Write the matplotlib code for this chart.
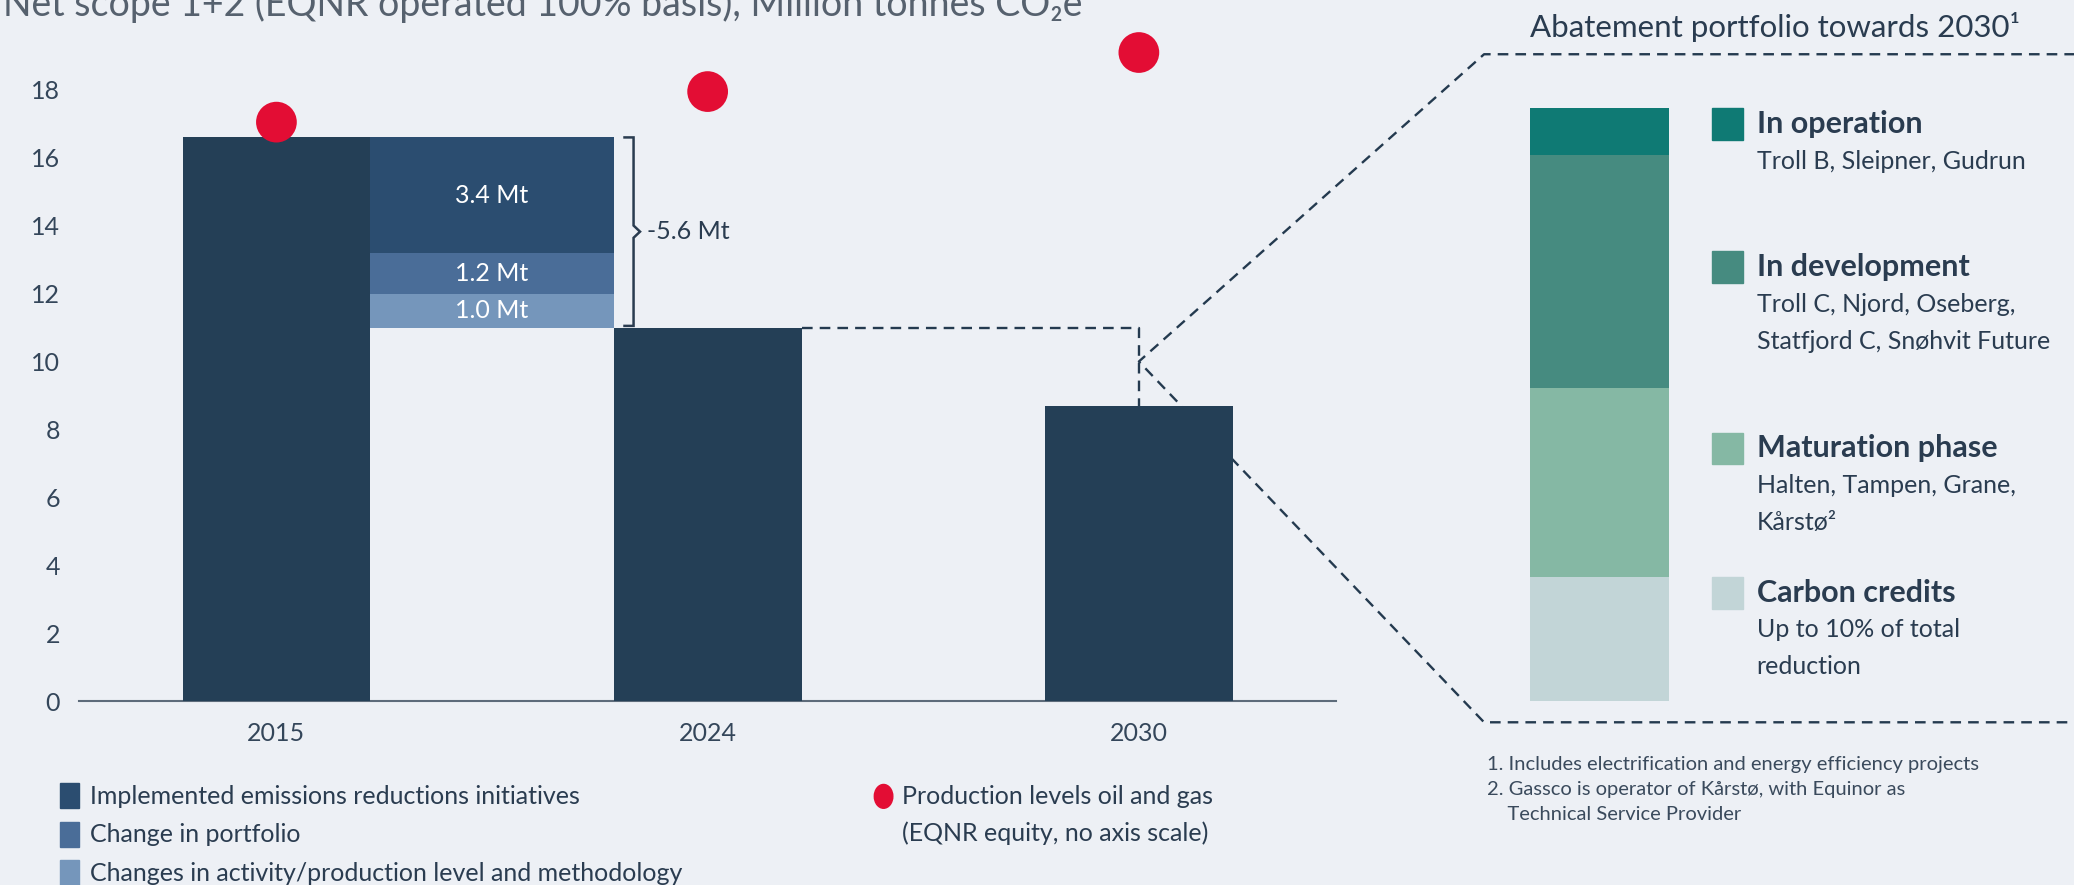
import numpy as np
import matplotlib.pyplot as plt
from matplotlib.patches import Rectangle, Ellipse

plt.rcParams['font.family'] = ['Lato', 'DejaVu Sans']

# ---- data ----
years = ["2015", "2024", "2030"]
emissions = [16.6, 11.0, 8.7]          # Mt CO2e
production = [17.05, 17.95, 19.1]      # no axis scale, plotted on same axis

bridge_labels = ["Implemented emissions reductions initiatives",
                 "Change in portfolio",
                 "Changes in activity/production level and methodology"]
bridge_values = [3.4, 1.2, 1.0]
bridge_text = ["3.4 Mt", "1.2 Mt", "1.0 Mt"]
drop_text = "-5.6 Mt"

portfolio_cats = ["In operation", "In development", "Maturation phase", "Carbon credits"]
portfolio_share = [7.8, 39.3, 31.9, 21.0]   # top to bottom, % of bar
portfolio_notes = [["Troll B, Sleipner, Gudrun"],
                   ["Troll C, Njord, Oseberg,", "Statfjord C, Snøhvit Future"],
                   ["Halten, Tampen, Grane,", "Kårstø²"],
                   ["Up to 10% of total", "reduction"]]
footnotes = ["1. Includes electrification and energy efficiency projects",
             "2. Gassco is operator of Kårstø, with Equinor as",
             "    Technical Service Provider"]

# ---- style ----
BG = "#edf0f5"
MAIN = "#243f56"
bridge_colors = ["#2b4d70", "#4a6d98", "#7596bb"]
portfolio_colors = ["#0f7a74", "#468b80", "#85b8a4", "#c2d5d7"]
RED = "#e30d34"
TXT = "#2a3c50"
DASH = "#243a4f"

W, H = 1568, 669


def fx(x):
    return x / W


def fy(y):
    return 1 - y / H


fig = plt.figure(figsize=(20.74, 8.85), dpi=100, facecolor=BG)

# ---- main chart ----
ax = fig.add_axes([fx(60), fy(530), (1010 - 60) / W, (530 - 16.6) / H])
ax.set_facecolor("none")
x = np.arange(len(years))
bw = 0.4356
ax.set_xlim(-0.457, 2.457)
ax.set_ylim(0, 20)

ax.bar(x, emissions, width=bw, color=MAIN, zorder=3)

bottoms = emissions[0] - np.cumsum(bridge_values)
bx = (x[0] + x[1]) / 2
ax.bar(bx, bridge_values, bottom=bottoms, width=1 - bw, color=bridge_colors, zorder=3)
for b, v, t in zip(bottoms, bridge_values, bridge_text):
    ax.text(bx, b + v / 2, t, color="white", ha="center", va="center", fontsize=18, zorder=5)

ax.scatter(x, production, s=860, color=RED, edgecolor="none", zorder=4)

# bracket for total drop
top, bot = emissions[0], bottoms[-1] + 0.05
mid = (top + bot) / 2
xb = x[1] - bw / 2 + 0.046
ax.plot([xb - 0.021, xb, xb, xb + 0.015, xb, xb, xb - 0.021],
        [top, top, mid + 0.18, mid, mid - 0.18, bot, bot],
        color=TXT, lw=1.8, zorder=4, solid_joinstyle="miter")
ax.text(xb + 0.031, mid, drop_text, fontsize=18, color=TXT, va="center", ha="left")

ax.set_yticks(range(0, 19, 2))
ax.set_xticks(x)
ax.set_xticklabels(years)
ax.tick_params(axis="y", length=0, labelsize=18, labelcolor="#34465a", pad=14)
ax.tick_params(axis="x", length=0, labelsize=18, labelcolor="#34465a", pad=15)
for s in ["top", "right", "left"]:
    ax.spines[s].set_visible(False)
ax.spines["bottom"].set_color("#5d6b7a")
ax.spines["bottom"].set_linewidth(1.5)

# dashed connector to abatement panel
to_data = lambda px, py: ax.transData.inverted().transform(
    fig.transFigure.transform((fx(px), fy(py))))
c_top = to_data(1122, 41)
c_bot = to_data(1122, 546)
r_top = to_data(1575, 41)
r_bot = to_data(1575, 546)
vy = 10.0
dkw = dict(color=DASH, lw=1.7, dashes=(4.5, 3), clip_on=False, zorder=2)
ax.plot([x[1] + bw / 2, x[2], x[2]], [emissions[1], emissions[1], emissions[2]], **dkw)
ax.plot([r_top[0], c_top[0], x[2], c_bot[0], r_bot[0]],
        [r_top[1], c_top[1], vy, c_bot[1], r_bot[1]], **dkw)

fig.text(fx(2), fy(12), "Net scope 1+2 (EQNR operated 100% basis), Million tonnes CO₂e",
         fontsize=27, color="#56616e", va="baseline", ha="left")

# ---- left legend ----
for i, (lab, col) in enumerate(zip(bridge_labels, bridge_colors)):
    yc = 602 + i * 29
    fig.patches.append(Rectangle((fx(45), fy(yc + 9)), 15 / W, 19 / H,
                                 transform=fig.transFigure, color=col))
    fig.text(fx(68), fy(yc), lab, fontsize=18, color=TXT, va="center", ha="left")

fig.patches.append(Ellipse((fx(668), fy(602)), 14 / W, 18 / H,
                           transform=fig.transFigure, color=RED))
fig.text(fx(682), fy(602), "Production levels oil and gas", fontsize=18, color=TXT, va="center")
fig.text(fx(682), fy(630), "(EQNR equity, no axis scale)", fontsize=18, color=TXT, va="center")

# ---- abatement portfolio panel ----
ax2 = fig.add_axes([fx(1157), fy(530), 105 / W, 448 / H])
ax2.set_facecolor("none")
vals = portfolio_share[::-1]
cols = portfolio_colors[::-1]
b0 = np.concatenate([[0], np.cumsum(vals)[:-1]])
ax2.bar(0, vals, bottom=b0, width=1, color=cols)
ax2.set_xlim(-0.5, 0.5)
ax2.set_ylim(0, sum(vals))
ax2.axis("off")

fig.text(fx(1157), fy(28), "Abatement portfolio towards 2030¹", fontsize=22.5,
         color=TXT, va="baseline", ha="left")

head_y = [94, 202, 339, 448]
for cat, col, hy, notes in zip(portfolio_cats, portfolio_colors, head_y, portfolio_notes):
    fig.patches.append(Rectangle((fx(1294), fy(hy + 12)), 24 / W, 24 / H,
                                 transform=fig.transFigure, color=col))
    fig.text(fx(1328), fy(hy), cat, fontsize=22, fontweight="bold", color=TXT, va="center")
    for j, n in enumerate(notes):
        fig.text(fx(1328), fy(hy + 28 + j * 28), n, fontsize=18, color=TXT, va="center")

for j, n in enumerate(footnotes):
    fig.text(fx(1124), fy(578 + j * 19), n, fontsize=14.5, color="#3a4a5c", va="center")

fig.savefig("out.png", dpi=100, facecolor=BG)
